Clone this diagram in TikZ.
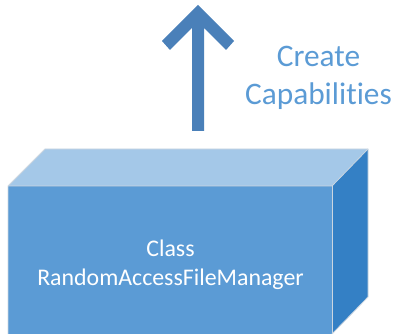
\documentclass[tikz,border=0pt]{standalone}
\usepackage{fontspec}
\setmainfont[Ligatures={NoCommon}]{Carlito}
\definecolor{topface}{HTML}{A4C8E8}
\definecolor{frontface}{HTML}{5B9BD5}
\definecolor{sideface}{HTML}{3480C5}
\definecolor{arrowblue}{HTML}{4A80B9}
\definecolor{labelblue}{HTML}{5B9BD5}
\definecolor{edgegray}{HTML}{CCD6E0}
\tikzset{
  face/.style={draw=edgegray, line width=0.6pt, line join=round},
  boxtext/.style={text=white, align=center, font=\fontsize{17.9pt}{21.75pt}\selectfont},
  captext/.style={text=labelblue, align=center, font=\fontsize{23.5pt}{28.5pt}\selectfont}
}
\begin{document}
\begin{tikzpicture}[x=0.75pt,y=-0.75pt]
\useasboundingbox (0,0) rectangle (395,334);
% box
\coordinate (fl) at (8,186);
\coordinate (fr) at (332,186);
\coordinate (bl) at (45,149);
\coordinate (br) at (368,149);
\coordinate (frb) at (332,334);
\coordinate (brb) at (368,297);
\coordinate (flb) at (8,334);
\fill[topface] (fl) -- (bl) -- (br) -- (fr) -- cycle;
\fill[sideface] (fr) -- (br) -- (brb) -- (frb) -- cycle;
\fill[frontface] (fl) -- (fr) -- (frb) -- (flb) -- cycle;
\draw[face] (flb) -- (fl) -- (bl) -- (br) -- (brb) -- (frb);
\draw[face] (fl) -- (fr) -- (br);
\draw[face] (fr) -- (frb);
\node[boxtext] (cls) at (170.5,265) {Class\\RandomAccessFileManager};
% arrow
\fill[arrowblue] (198,5) -- (234,41) -- (226,50) -- (204,28) -- (204,131)
  -- (192,131) -- (192,28) -- (170,50) -- (162,41) -- cycle;
\node[captext] (cap) at (318.5,78) {Create\\Capabilities};
\end{tikzpicture}
\end{document}
